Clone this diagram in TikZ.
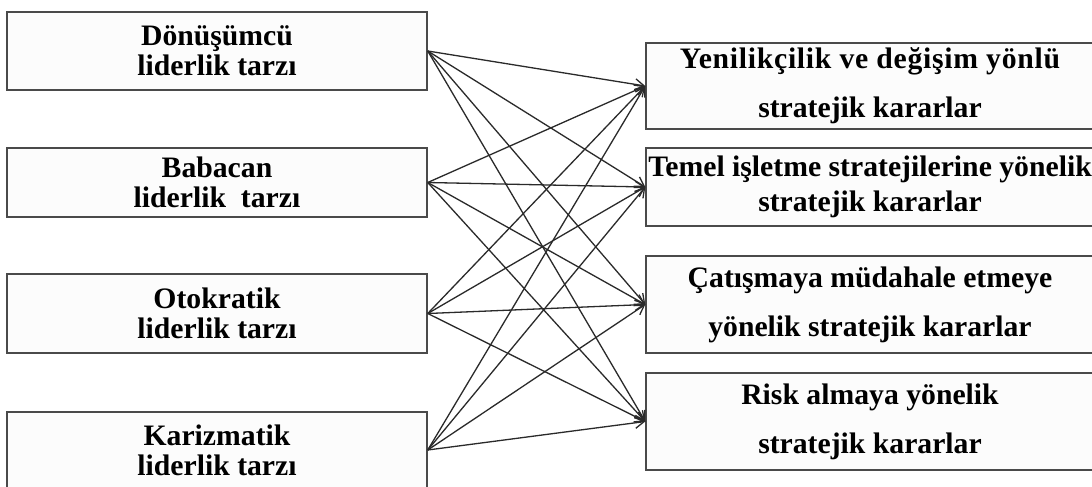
\documentclass[tikz,border=0pt]{standalone}
\usepackage{fontspec}
\setmainfont{Liberation Serif}
\usetikzlibrary{arrows.meta}
\definecolor{boxgray}{HTML}{4A4A4A}
\definecolor{boxfill}{HTML}{FCFCFC}
\definecolor{linegray}{HTML}{2A2A2A}
\begin{document}
\begin{tikzpicture}[x=1pt,y=-1pt,
  box/.style={draw=boxgray,line width=1.5pt,fill=boxfill,inner sep=0pt,align=center},
  lbox/.style={box,minimum width=420pt,font=\bfseries\fontsize{29.7}{30}\selectfont},
  rbox/.style={box,minimum width=448pt,font=\bfseries\fontsize{29.7}{49}\selectfont},
  link/.style={draw=linegray,line width=1.3pt,-{Straight Barb[length=9pt,width=11pt]}}]
\useasboundingbox (0,0) rectangle (1092,487);
\fill[white] (0,0) rectangle (1092,487);
\node[lbox,minimum height=78pt] (l1) at (217,51) {Dönüşümcü\\ liderlik tarzı};
\node[lbox,minimum height=69pt] (l2) at (217,182.5) {Babacan\\liderlik~~tarzı};
\node[lbox,minimum height=79pt] (l3) at (217,313.5) {Otokratik\\liderlik tarzı};
\node[lbox,minimum height=76pt] (l4) at (217,450) {Karizmatik\\liderlik tarzı};
\node[rbox,minimum height=86pt] (r1) at (870,86) {{\addfontfeature{LetterSpace=2.4}Yenilikçilik ve değişim yönlü}\\stratejik kararlar};
\node[rbox,minimum height=78pt,font=\bfseries\fontsize{29.7}{35}\selectfont] (r2) at (870,187) {Temel işletme stratejilerine yönelik\\stratejik kararlar};
\node[rbox,minimum height=97pt] (r3) at (870,304.5) {Çatışmaya müdahale etmeye\\yönelik stratejik kararlar};
\node[rbox,minimum height=97pt] (r4) at (870,421.5) {Risk almaya yönelik\\stratejik kararlar};
\foreach \a in {l1,l2,l3,l4}
  \foreach \b in {r1,r2,r3,r4}
    \draw[link] (\a.east) -- (\b.west);
\end{tikzpicture}
\end{document}
